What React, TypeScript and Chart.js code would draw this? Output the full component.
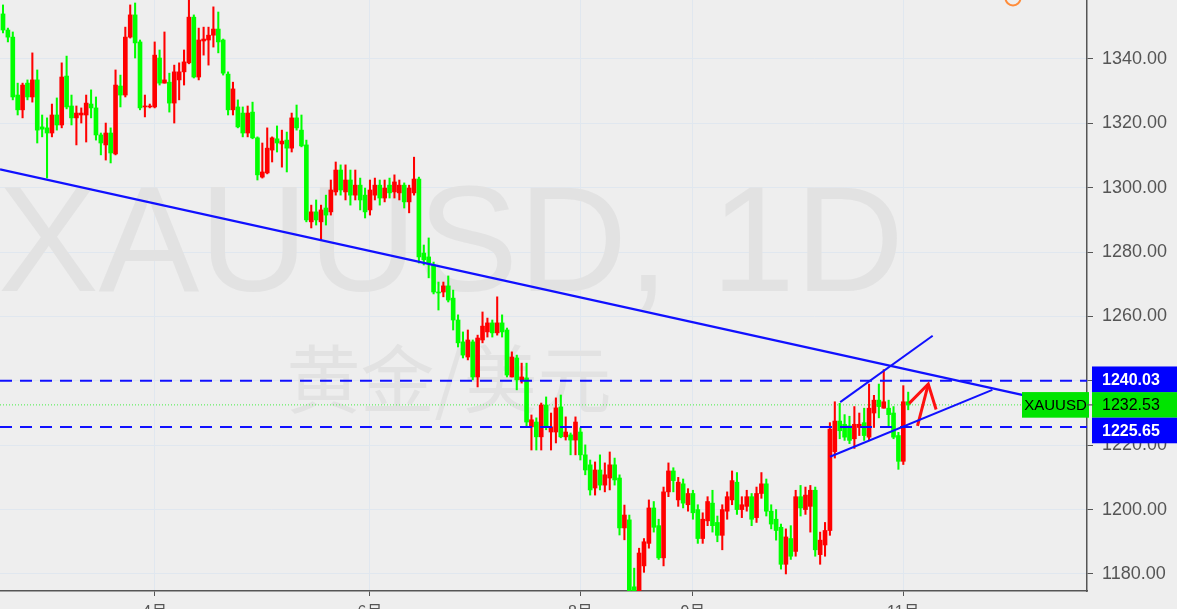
import { useEffect, useRef } from "react";
import { Chart, registerables } from "chart.js";

Chart.register(...registerables);

// ---- trading days (categories) ----
const FEB = [15, 16, 19, 20, 21, 22, 23, 26, 27, 28];
const MAR = [1, 2, 5, 6, 7, 8, 9, 12, 13, 14, 15, 16, 19, 20, 21, 22, 23, 26, 27, 28, 29];
const APR = [2, 3, 4, 5, 6, 9, 10, 11, 12, 13, 16, 17, 18, 19, 20, 23, 24, 25, 26, 27, 30];
const MAY = [1, 2, 3, 4, 7, 8, 9, 10, 11, 14, 15, 16, 17, 18, 21, 22, 23, 24, 25, 28, 29, 30, 31];
const JUN = [1, 4, 5, 6, 7, 8, 11, 12, 13, 14, 15, 18, 19, 20, 21, 22, 25, 26, 27, 28, 29];
const JUL = [2, 3, 4, 5, 6, 9, 10, 11, 12, 13, 16, 17, 18, 19, 20, 23, 24, 25, 26, 27, 30, 31];
const AUG = [1, 2, 3, 6, 7, 8, 9, 10, 13, 14, 15, 16, 17, 20, 21, 22, 23, 24, 27, 28, 29, 30, 31];
const SEP = [3, 4, 5, 6, 7, 10, 11, 12, 13, 14, 17, 18, 19, 20, 21, 24, 25, 26, 27, 28];
const OCT = [1, 2, 3, 4, 5, 8, 9, 10, 11, 12, 15, 16, 17, 18, 19, 22, 23, 24, 25, 26, 29, 30, 31];
const NOV = [1, 2];
const MONTH_DAYS: [number, number[]][] = [
  [2, FEB], [3, MAR], [4, APR], [5, MAY], [6, JUN], [7, JUL], [8, AUG], [9, SEP], [10, OCT], [11, NOV],
];
const dates: string[] = MONTH_DAYS.flatMap(([m, days]) => days.map((d) => `2018-${m}-${d}`));

// ---- OHLC series ----
const open = [
  1354.0, 1349.0, 1346.8, 1328.8, 1324.2, 1332.5, 1328.2, 1333.5, 1318.9, 1318.6,
  1317.0, 1322.6, 1319.5, 1334.7, 1325.4, 1321.7, 1322.6, 1322.6, 1326.0, 1324.8,
  1316.4, 1313.3, 1317.0, 1310.5, 1331.6, 1328.8, 1346.8, 1353.7, 1345.3, 1325.1,
  1325.1, 1325.1, 1340.3, 1332.5, 1332.8, 1326.3, 1333.5, 1336.0, 1338.8, 1353.0,
  1334.4, 1345.6, 1345.9, 1347.4, 1349.3, 1345.9, 1335.3, 1324.2, 1325.1, 1323.2,
  1317.0, 1323.5, 1315.5, 1303.3, 1304.6, 1311.7, 1315.2, 1313.6, 1314.8, 1312.3,
  1321.7, 1317.9, 1313.3, 1289.4, 1292.5, 1289.4, 1293.7, 1292.5, 1298.7, 1305.5,
  1298.7, 1302.4, 1297.7, 1300.8, 1297.7, 1293.1, 1297.7, 1300.8, 1296.8, 1300.8,
  1298.7, 1298.4, 1300.8, 1295.6, 1298.4, 1302.7, 1279.7, 1278.5, 1276.0, 1267.6,
  1267.6, 1269.5, 1265.7, 1258.9, 1252.1, 1247.4, 1252.1, 1241.2, 1252.7, 1255.2,
  1258.0, 1254.9, 1258.0, 1255.8, 1241.2, 1247.1, 1240.3, 1240.9, 1225.7, 1227.2,
  1222.6, 1232.5, 1224.1, 1224.1, 1231.9, 1222.6, 1223.2, 1221.6, 1224.1, 1217.0,
  1213.9, 1206.7, 1212.3, 1207.6, 1209.8, 1213.9, 1209.8, 1194.3, 1196.8, 1176.0,
  1173.5, 1182.5, 1189.5, 1200.5, 1195.0, 1185.0, 1205.5, 1212.0, 1203.0, 1208.0,
  1201.5, 1205.0, 1200.0, 1191.0, 1196.5, 1202.0, 1196.0, 1192.0, 1199.5, 1203.0,
  1208.5, 1200.0, 1201.0, 1204.0, 1197.5, 1205.0, 1208.0, 1199.5, 1197.0, 1194.5,
  1183.0, 1191.0, 1187.0, 1204.0, 1200.0, 1201.0, 1206.0, 1186.0, 1189.0, 1193.5,
  1218.0, 1227.5, 1226.5, 1226.0, 1222.0, 1225.5, 1227.0, 1222.5, 1230.0, 1234.0,
  1231.5, 1231.5, 1230.0, 1223.0, 1215.0, 1233.5,
];
const high = [
  1356.8, 1349.6, 1348.4, 1332.5, 1332.5, 1333.5, 1341.9, 1336.6, 1322.6, 1321.7,
  1326.0, 1327.9, 1338.8, 1340.9, 1328.8, 1325.4, 1324.8, 1328.8, 1330.4, 1328.2,
  1317.0, 1320.1, 1318.6, 1336.6, 1335.0, 1349.9, 1356.8, 1357.4, 1345.9, 1328.8,
  1326.0, 1345.3, 1342.8, 1348.4, 1335.6, 1338.1, 1338.8, 1342.8, 1358.3, 1353.7,
  1349.6, 1349.9, 1349.9, 1356.2, 1354.6, 1346.2, 1336.0, 1332.8, 1327.3, 1325.1,
  1325.4, 1326.6, 1315.8, 1313.9, 1318.6, 1315.8, 1319.2, 1317.9, 1317.3, 1323.2,
  1325.7, 1322.6, 1314.8, 1294.6, 1296.2, 1294.6, 1297.7, 1302.4, 1308.0, 1307.1,
  1307.1, 1305.5, 1305.5, 1303.0, 1299.9, 1302.4, 1303.0, 1302.4, 1302.4, 1303.0,
  1304.0, 1302.4, 1301.5, 1300.8, 1309.5, 1303.3, 1282.2, 1284.4, 1276.9, 1270.7,
  1270.7, 1272.6, 1268.2, 1260.5, 1255.2, 1255.8, 1252.7, 1254.2, 1261.4, 1259.5,
  1258.9, 1266.1, 1260.5, 1256.4, 1249.0, 1248.0, 1245.5, 1245.5, 1229.4, 1228.5,
  1233.1, 1235.0, 1230.0, 1234.7, 1235.6, 1228.8, 1223.8, 1228.8, 1225.4, 1220.1,
  1215.4, 1214.8, 1217.0, 1214.5, 1217.9, 1216.0, 1210.8, 1201.4, 1198.3, 1181.8,
  1188.0, 1191.0, 1203.0, 1202.5, 1197.0, 1207.0, 1214.5, 1213.0, 1210.0, 1209.5,
  1206.5, 1206.0, 1201.5, 1199.0, 1204.0, 1206.0, 1198.0, 1201.5, 1205.5, 1212.0,
  1211.5, 1204.0, 1206.0, 1205.0, 1207.0, 1211.5, 1209.5, 1201.5, 1200.0, 1195.5,
  1194.0, 1195.0, 1206.0, 1207.5, 1207.0, 1207.5, 1207.0, 1193.0, 1196.0, 1227.0,
  1233.5, 1233.0, 1229.5, 1229.0, 1232.0, 1230.0, 1231.5, 1239.0, 1235.5, 1239.0,
  1243.5, 1234.0, 1232.0, 1224.0, 1238.5, 1236.5,
];
const low = [
  1348.1, 1345.3, 1327.3, 1322.6, 1321.7, 1327.3, 1326.6, 1313.9, 1315.8, 1303.0,
  1315.8, 1317.9, 1318.6, 1324.5, 1319.5, 1313.3, 1320.1, 1314.2, 1321.7, 1314.8,
  1310.2, 1308.6, 1307.7, 1310.2, 1325.1, 1328.2, 1346.5, 1340.3, 1324.2, 1322.0,
  1324.8, 1324.8, 1331.9, 1332.5, 1323.5, 1320.1, 1327.3, 1331.9, 1338.5, 1334.1,
  1333.5, 1341.2, 1338.1, 1343.7, 1341.9, 1335.0, 1322.6, 1322.6, 1318.6, 1315.8,
  1315.8, 1315.2, 1302.4, 1303.0, 1304.3, 1308.0, 1311.1, 1306.4, 1304.9, 1311.1,
  1317.9, 1312.7, 1289.4, 1287.5, 1288.4, 1283.8, 1288.4, 1291.5, 1297.7, 1297.7,
  1296.2, 1294.6, 1296.2, 1293.1, 1290.6, 1291.5, 1296.2, 1294.6, 1295.6, 1296.8,
  1296.8, 1296.2, 1293.7, 1292.2, 1297.7, 1276.6, 1276.0, 1272.0, 1267.0, 1262.0,
  1266.1, 1264.5, 1255.8, 1250.5, 1247.1, 1246.5, 1240.3, 1238.1, 1251.8, 1253.6,
  1253.6, 1254.2, 1253.6, 1241.2, 1241.2, 1237.2, 1239.3, 1225.7, 1218.5, 1218.5,
  1218.5, 1224.8, 1218.5, 1220.7, 1222.3, 1221.6, 1217.0, 1217.0, 1215.4, 1210.8,
  1204.5, 1204.5, 1206.1, 1205.5, 1206.1, 1207.6, 1192.1, 1190.6, 1160.0, 1168.0,
  1167.0, 1180.5, 1188.0, 1193.0, 1184.5, 1182.5, 1204.0, 1205.5, 1201.0, 1200.5,
  1199.5, 1197.0, 1189.5, 1189.5, 1195.0, 1193.0, 1190.0, 1187.5, 1197.0, 1201.5,
  1198.5, 1197.5, 1199.5, 1195.0, 1196.0, 1203.5, 1198.0, 1194.0, 1190.5, 1181.5,
  1180.0, 1184.5, 1185.5, 1198.0, 1198.5, 1193.0, 1185.5, 1183.0, 1185.5, 1192.0,
  1216.0, 1222.0, 1221.5, 1220.5, 1219.0, 1223.0, 1221.5, 1221.5, 1225.5, 1228.5,
  1231.5, 1226.0, 1222.0, 1212.5, 1214.0, 1231.0,
];
const close = [
  1349.0, 1346.8, 1328.2, 1324.2, 1331.9, 1328.2, 1333.5, 1317.9, 1318.2, 1317.0,
  1322.6, 1319.5, 1334.4, 1325.1, 1321.7, 1323.2, 1323.2, 1326.3, 1324.8, 1316.4,
  1313.9, 1317.0, 1310.8, 1331.9, 1328.8, 1346.8, 1353.7, 1345.0, 1324.8, 1325.4,
  1325.4, 1341.2, 1332.5, 1333.5, 1326.3, 1336.0, 1336.0, 1339.1, 1353.0, 1334.4,
  1345.9, 1346.2, 1347.4, 1349.3, 1345.3, 1335.6, 1324.2, 1330.7, 1318.9, 1317.0,
  1323.2, 1315.5, 1304.0, 1304.9, 1312.3, 1315.5, 1313.9, 1314.5, 1312.3, 1321.7,
  1318.6, 1313.0, 1290.0, 1292.5, 1290.0, 1293.1, 1291.5, 1299.3, 1305.5, 1299.3,
  1302.4, 1297.7, 1300.8, 1296.2, 1292.5, 1299.3, 1300.8, 1296.8, 1299.9, 1298.4,
  1301.8, 1300.8, 1295.6, 1299.9, 1302.7, 1278.5, 1277.6, 1276.6, 1267.6, 1267.3,
  1269.5, 1265.1, 1258.9, 1251.8, 1248.0, 1252.7, 1241.2, 1253.3, 1257.0, 1258.0,
  1254.9, 1258.0, 1255.2, 1241.8, 1247.4, 1240.3, 1241.2, 1227.2, 1227.9, 1222.6,
  1232.5, 1225.7, 1225.7, 1231.6, 1222.6, 1224.1, 1221.6, 1227.2, 1217.0, 1212.3,
  1206.1, 1212.3, 1207.6, 1210.8, 1213.9, 1209.2, 1194.3, 1198.3, 1174.0, 1173.0,
  1186.5, 1190.0, 1200.5, 1194.5, 1185.0, 1205.5, 1212.0, 1209.0, 1208.5, 1202.0,
  1205.0, 1199.0, 1191.0, 1197.0, 1202.5, 1195.0, 1192.0, 1200.0, 1204.0, 1209.0,
  1200.0, 1201.5, 1204.0, 1197.0, 1205.0, 1208.0, 1199.5, 1195.5, 1193.5, 1183.0,
  1191.5, 1185.5, 1204.0, 1200.5, 1204.5, 1206.0, 1187.5, 1190.5, 1193.5, 1225.0,
  1227.5, 1224.5, 1222.5, 1221.5, 1226.5, 1226.5, 1223.0, 1231.5, 1234.0, 1232.0,
  1233.5, 1229.5, 1222.5, 1215.0, 1233.5, 1232.53,
];

// ---- axis ticks ----
const yTickValues = [1180, 1200, 1220, 1240, 1260, 1280, 1300, 1320, 1340, 1360];
const xTickMonths = [4, 6, 8, 9, 11];
const xTickLabels = ["4月", "6月", "8月", "9月", "11月"];

// ---- drawn objects (x = bar index, y = price) ----
const trendLine = [
  { x: -0.61, y: 1305.7 },
  { x: 215.0, y: 1233.4 },
];
const wedgeUpper = [
  { x: 171.1, y: 1233.4 },
  { x: 190.0, y: 1254.0 },
];
const wedgeLower = [
  { x: 169.0, y: 1216.4 },
  { x: 202.2, y: 1237.2 },
];
const arrowShaft = [
  { x: 186.9, y: 1226.0 },
  { x: 189.1, y: 1239.0 },
];
const arrowHead = [
  { x: 185.2, y: 1233.0 },
  { x: 189.1, y: 1239.0 },
  { x: 190.7, y: 1231.1 },
];
const resistance = 1240.03;
const support = 1225.65;
const lastPrice = 1232.53;
const symbol = "XAUUSD";

const X_MIN = -0.613;
const X_MAX = 221.54;
const Y_MIN = 1174.7;
const Y_MAX = 1358.33;

const BG = "#eeeeee";
const UP = "#ff0000";
const DOWN = "#00ff00";
const BLUE = "#1010ff";
const GRID = "#e0e7ef";
const AXIS = "#555555";
const FONT = '"Liberation Sans", Arial, "Noto Sans CJK SC", sans-serif';

export default function App() {
  const ref = useRef<HTMLCanvasElement>(null);

  useEffect(() => {
    const canvas = ref.current;
    if (!canvas) return;
    Chart.defaults.font.family = FONT;

    const idx = dates.map((_, i) => i);
    const wickData = idx.map((i) => ({ x: i, y: [low[i], high[i]] }));
    const bodyData = idx.map((i) => ({ x: i, y: [open[i], close[i]] }));
    const candleColor = (c: any) => (close[c.dataIndex] >= open[c.dataIndex] ? UP : DOWN);

    const monthTickIdx = xTickMonths.map((m) => dates.findIndex((d) => Number(d.split("-")[1]) === m));

    const lineDs = (data: any[], color: string, width: number, dash: number[] = []) => ({
      type: "line" as const,
      data,
      borderColor: color,
      borderWidth: width,
      borderDash: dash,
      pointRadius: 0,
      fill: false,
      tension: 0,
      order: 0,
    });

    const background = {
      id: "bg",
      beforeDraw(chart: any) {
        const { ctx, width, height } = chart;
        ctx.save();
        ctx.fillStyle = BG;
        ctx.fillRect(0, 0, width, height);
        ctx.restore();
      },
    };

    const watermark = {
      id: "watermark",
      beforeDatasetsDraw(chart: any) {
        const { ctx } = chart;
        ctx.save();
        ctx.fillStyle = "#e2e2e2";
        ctx.textAlign = "center";
        ctx.textBaseline = "alphabetic";
        ctx.font = '151px "Liberation Sans", Arial, sans-serif';
        ctx.fillText("XAUUSD, 1D", 451, 291);
        ctx.font = '74px "Noto Sans CJK SC", sans-serif';
        ctx.fillText("黄金/美元", 449, 407);
        ctx.restore();
      },
    };

    const priceLabels = {
      id: "priceLabels",
      afterDraw(chart: any) {
        const { ctx } = chart;
        const ys = chart.scales.y;
        const h = 25.6;
        const x0 = 1092;
        const w = chart.width - x0;
        const yc = ys.getPixelForValue(lastPrice);
        const gTop = yc - h / 2;
        const gBot = yc + h / 2;
        const upC = Math.min(ys.getPixelForValue(resistance), gTop - h / 2);
        const dnC = Math.max(ys.getPixelForValue(support), gBot + h / 2);
        ctx.save();
        ctx.fillStyle = "#00e400";
        ctx.fillRect(x0, gTop, w, h);
        ctx.fillRect(1022, gTop, 67, h);
        ctx.fillStyle = "#0000ff";
        ctx.fillRect(x0, upC - h / 2, w, h);
        ctx.fillRect(x0, dnC - h / 2, w, h);
        ctx.strokeStyle = AXIS;
        ctx.lineWidth = 1.2;
        ctx.beginPath();
        ctx.moveTo(1087, yc);
        ctx.lineTo(1093, yc);
        ctx.stroke();
        ctx.textBaseline = "middle";
        ctx.textAlign = "left";
        ctx.font = 'bold 16px "Liberation Sans", Arial, sans-serif';
        ctx.fillStyle = "#ffffff";
        ctx.fillText(resistance.toFixed(2), 1102, upC + 1);
        ctx.fillText(support.toFixed(2), 1102, dnC + 1);
        ctx.fillStyle = "#000000";
        ctx.font = '16px "Liberation Sans", Arial, sans-serif';
        ctx.fillText(lastPrice.toFixed(2), 1102, yc + 1);
        ctx.textAlign = "center";
        ctx.font = '15px "Liberation Sans", Arial, sans-serif';
        ctx.fillText(symbol, 1055.5, yc + 1);
        // header icon partly visible at the top edge
        ctx.strokeStyle = "#ff8c3a";
        ctx.lineWidth = 2;
        ctx.beginPath();
        ctx.arc(1013, -2, 7.5, 0, Math.PI * 2);
        ctx.stroke();
        ctx.restore();
      },
    };

    const chart = new Chart(canvas, {
      type: "bar",
      data: {
        datasets: [
          lineDs(trendLine, BLUE, 2.2),
          lineDs(wedgeUpper, BLUE, 2),
          lineDs(wedgeLower, BLUE, 2),
          lineDs(arrowShaft, "#ff1010", 3),
          lineDs(arrowHead, "#ff1010", 3),
          lineDs([{ x: X_MIN, y: resistance }, { x: X_MAX, y: resistance }], BLUE, 2.2, [12, 8]),
          lineDs([{ x: X_MIN, y: support }, { x: X_MAX, y: support }], BLUE, 2.2, [12, 8]),
          { ...lineDs([{ x: X_MIN, y: lastPrice }, { x: 208.3, y: lastPrice }], "#44ee44", 1, [1, 2]), order: 3 },
          {
            type: "bar" as const,
            data: bodyData as any,
            backgroundColor: candleColor,
            barThickness: 4,
            minBarLength: 1,
            grouped: false,
            order: 1,
          },
          {
            type: "bar" as const,
            data: wickData as any,
            backgroundColor: candleColor,
            barThickness: 1.4,
            grouped: false,
            order: 2,
          },
        ] as any,
      },
      options: {
        animation: false,
        responsive: false,
        maintainAspectRatio: false,
        layout: { padding: 0, autoPadding: false } as any,
        plugins: { legend: { display: false }, tooltip: { enabled: false } },
        scales: {
          x: {
            type: "linear",
            min: X_MIN,
            max: X_MAX,
            offset: false,
            afterBuildTicks: (s: any) => {
              s.ticks = monthTickIdx.map((v) => ({ value: v }));
            },
            afterFit: (s: any) => {
              s.height = 18;
              s.paddingLeft = 0;
              s.paddingRight = 0;
            },
            ticks: {
              autoSkip: false,
              maxRotation: 0,
              padding: 7,
              color: AXIS,
              font: { size: 16, family: FONT },
              callback: (_v: any, i: number) => xTickLabels[i],
            },
            grid: { color: GRID, tickColor: AXIS, tickLength: 5, lineWidth: 1, offset: false },
            border: { color: AXIS, width: 1.5 },
          },
          y: {
            type: "linear",
            position: "right",
            min: Y_MIN,
            max: Y_MAX,
            afterBuildTicks: (s: any) => {
              s.ticks = yTickValues.map((v) => ({ value: v }));
            },
            afterFit: (s: any) => {
              s.width = 90;
              s.paddingTop = 0;
              s.paddingBottom = 0;
            },
            ticks: {
              autoSkip: false,
              padding: 9,
              color: AXIS,
              font: { size: 18, family: FONT },
              callback: (v: any) => Number(v).toFixed(2),
            },
            grid: { color: GRID, tickColor: AXIS, tickLength: 6, lineWidth: 1 },
            border: { color: AXIS, width: 1.5 },
          },
        },
      } as any,
      plugins: [background, watermark, priceLabels],
    });

    return () => chart.destroy();
  }, []);

  return (
    <div style={{ position: "fixed", left: 0, top: 0, width: 1177, height: 609 }}>
      <canvas ref={ref} width={1177} height={609} style={{ width: 1177, height: 609, display: "block" }} />
    </div>
  );
}
